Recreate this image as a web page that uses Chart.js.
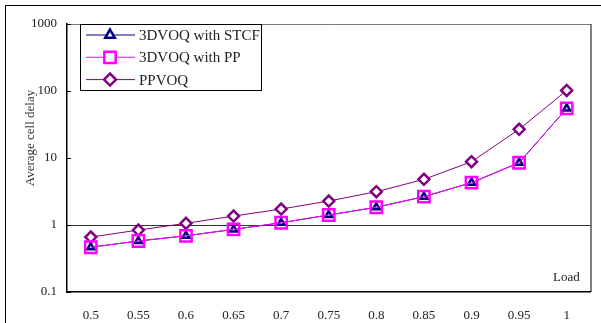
<!DOCTYPE html>
<html>
<head>
<meta charset="utf-8">
<script src="https://cdn.jsdelivr.net/npm/chart.js@4/dist/chart.umd.min.js"></script>
<style>
  html, body { margin:0; padding:0; background:#fff; }
  #wrap { position:relative; width:601px; height:323px; overflow:hidden; }
  #frame { position:absolute; left:5px; top:5px; width:620px; height:340px; border:1.5px solid #000; box-sizing:border-box; }
  canvas { position:absolute; left:0; top:0; }
</style>
</head>
<body>
<div id="wrap">
  <div id="frame"></div>
  <canvas id="delayChart" width="601" height="323"></canvas>
</div>
<script>
var loads   = ['0.5','0.55','0.6','0.65','0.7','0.75','0.8','0.85','0.9','0.95','1'];
var stcf    = [0.465, 0.577, 0.69, 0.86, 1.08, 1.41, 1.84, 2.65, 4.28, 8.5, 55];
var pp      = [0.465, 0.577, 0.69, 0.86, 1.08, 1.41, 1.84, 2.65, 4.28, 8.5, 55];
var ppvoq   = [0.66, 0.84, 1.06, 1.36, 1.73, 2.28, 3.14, 4.8, 8.8, 26.8, 102];
var yTicks  = [0.1, 1, 10, 100, 1000];

var serif = '"Liberation Serif", "Times New Roman", serif';
var legendOrder = ['3DVOQ with STCF', '3DVOQ with PP', 'PPVOQ'];

// frame, inside ticks, axis captions and the legend box
var decor = {
    id: 'decor',
    afterDraw: function (chart) {
        var c = chart.ctx, a = chart.chartArea, y = chart.scales.y;
        c.save();
        c.strokeStyle = '#777'; c.lineWidth = 1;
        c.beginPath(); c.moveTo(a.left, a.top + 0.5); c.lineTo(a.right, a.top + 0.5); c.stroke();
        c.strokeStyle = '#000';
        c.beginPath(); c.moveTo(a.right + 0.5, a.top); c.lineTo(a.right + 0.5, a.bottom); c.stroke();
        yTicks.forEach(function (v) {
            var py = Math.round(y.getPixelForValue(v)) + 0.5;
            c.beginPath(); c.moveTo(a.left, py); c.lineTo(a.left + 4, py); c.stroke();
        });

        c.fillStyle = '#222';
        c.font = '13px ' + serif;
        c.textAlign = 'left'; c.textBaseline = 'middle';
        c.fillText('Load', 553, 278);

        c.save();
        c.translate(31, 138);
        c.rotate(-Math.PI / 2);
        c.textAlign = 'center';
        c.fillStyle = '#333';
        c.fillText('Average cell delay', 0, 0);
        c.restore();

        // legend
        var bx = 80, by = 24, bw = 181, bh = 66;
        c.fillStyle = '#fff';
        c.fillRect(bx, by, bw, bh);
        c.strokeStyle = '#000'; c.lineWidth = 1;
        c.strokeRect(bx + 0.5, by + 0.5, bw, bh);
        legendOrder.forEach(function (name, i) {
            var ds = chart.data.datasets.filter(function (d) { return d.label === name; })[0];
            var ly = 35 + i * 22.3;
            c.strokeStyle = ds.borderColor; c.lineWidth = 1;
            c.beginPath(); c.moveTo(86, ly); c.lineTo(135, ly); c.stroke();
            Chart.helpers.drawPoint(c, {
                pointStyle: ds.pointStyle, radius: ds.legendRadius, rotation: 0,
                borderWidth: ds.pointBorderWidth
            }, 110, ly);
            c.fillStyle = '#fff';
            c.strokeStyle = ds.borderColor;
            c.lineWidth = ds.pointBorderWidth;
            c.fill(); c.stroke();
            c.fillStyle = '#222';
            c.font = '15px ' + serif;
            c.textAlign = 'left'; c.textBaseline = 'middle';
            c.fillText(ds.label, 139, ly + 1);
        });
        c.restore();
    }
};

new Chart(document.getElementById('delayChart'), {
    type: 'line',
    data: {
        labels: loads,
        datasets: [
            { label:'3DVOQ with PP', data:pp, borderColor:'#ff00ff', borderWidth:1, order:0,
              pointStyle:'rect', pointRadius:8, legendRadius:8, pointBorderWidth:2.5,
              pointBackgroundColor:'rgba(0,0,0,0)' },
            { label:'3DVOQ with STCF', data:stcf, borderColor:'#000080', borderWidth:1, order:1,
              pointStyle:'triangle', pointRadius:4, legendRadius:5.5, pointBorderWidth:2.5,
              pointBackgroundColor:'#fff' },
            { label:'PPVOQ', data:ppvoq, borderColor:'#800080', borderWidth:1, order:2,
              pointStyle:'rectRot', pointRadius:5.5, legendRadius:6, pointBorderWidth:2.5,
              pointBackgroundColor:'#fff' }
        ]
    },
    options: {
        responsive:false, animation:false,
        layout:{ padding:{ left:20, top:24, right:5, bottom:0 } },
        plugins:{ legend:{display:false}, tooltip:{enabled:false} },
        scales:{
            x:{ offset:true,
                grid:{ display:false },
                border:{ color:'#000', width:1.5 },
                ticks:{ color:'#222', padding:8, maxRotation:0, font:{ family:serif, size:13 } },
                afterFit:function (s) { s.height = 31; } },
            y:{ type:'logarithmic', min:0.1, max:1000,
                afterBuildTicks:function (s) { s.ticks = yTicks.map(function (v) { return { value:v }; }); },
                grid:{ drawTicks:false,
                       color:function (ctx) { return ctx.tick && ctx.tick.value === 1 ? '#333' : 'rgba(0,0,0,0)'; } },
                border:{ color:'#000', width:1.5 },
                ticks:{ color:'#222', padding:10, font:{ family:serif, size:13 },
                        callback:function (v) { return String(v); } },
                afterFit:function (s) { s.width = 47; } }
        }
    },
    plugins:[decor]
});
</script>
</body>
</html>
